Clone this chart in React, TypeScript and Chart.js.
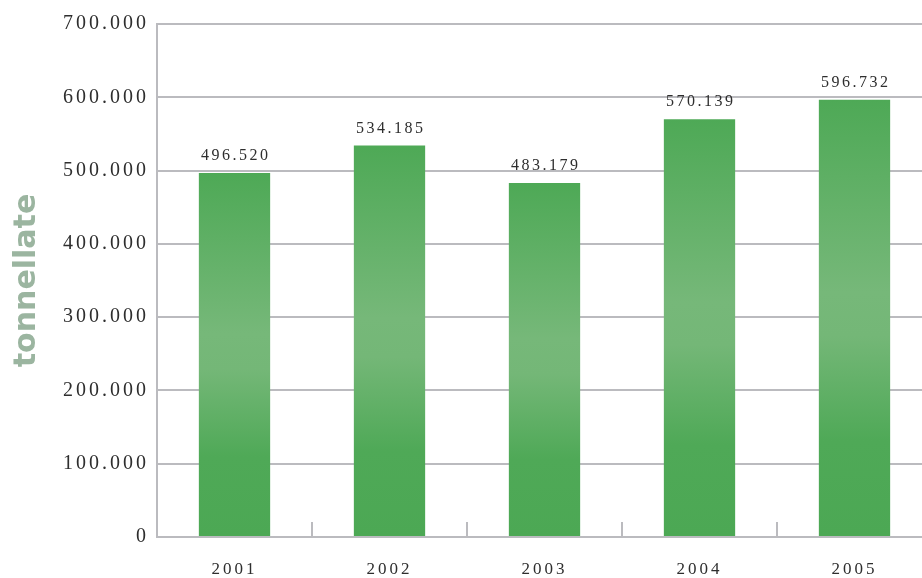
import React, { useEffect, useRef } from "react";
import { Chart, registerables } from "chart.js";

Chart.register(...registerables);

const categories = ["2001", "2002", "2003", "2004", "2005"];
const values = [496520, 534185, 483179, 570139, 596732];
const yTicks = [0, 100000, 200000, 300000, 400000, 500000, 600000, 700000];
const yTitle = "tonnellate";

const fmt = (n: number) => String(Math.round(n)).replace(/\B(?=(\d{3})+(?!\d))/g, ".");

const GRID = "#bbbbbf";
const TEXT = "#2e2e2e";
const SERIF = '"Liberation Serif", "DejaVu Serif", serif';
const SPACING = "3px";

const spacingPlugin = {
  id: "spacing",
  beforeUpdate(chart: any) {
    chart.ctx.letterSpacing = SPACING;
  },
  beforeDraw(chart: any) {
    chart.ctx.letterSpacing = SPACING;
    const ys = chart.scales.y;
    if (ys && !ys.__patched) {
      const orig = ys.drawTitle;
      ys.drawTitle = function (...args: any[]) {
        const ctx = this.ctx;
        ctx.save();
        ctx.letterSpacing = "0px";
        orig.apply(this, args);
        ctx.restore();
      };
      ys.__patched = true;
    }
  },
};

const labelPlugin = {
  id: "barLabels",
  afterDatasetsDraw(chart: any) {
    const ctx = chart.ctx;
    const meta = chart.getDatasetMeta(0);
    ctx.save();
    ctx.letterSpacing = "2.5px";
    ctx.font = `16px ${SERIF}`;
    ctx.fillStyle = TEXT;
    ctx.textAlign = "center";
    ctx.textBaseline = "alphabetic";
    meta.data.forEach((bar: any, i: number) => {
      ctx.fillText(fmt(values[i]), bar.x + 1.25, bar.y - 13);
    });
    ctx.restore();
  },
};

export default function App() {
  const ref = useRef<HTMLCanvasElement | null>(null);
  useEffect(() => {
    if (!ref.current) return;
    const chart = new Chart(ref.current, {
      type: "bar",
      data: {
        labels: categories,
        datasets: [
          {
            data: values,
            backgroundColor: (c: any) => {
              const chart = c.chart;
              if (!chart.chartArea || c.type !== "data") return "#4ea956";
              const y = chart.scales.y;
              const top = y.getPixelForValue(c.parsed.y);
              const bottom = y.getPixelForValue(0);
              const g = chart.ctx.createLinearGradient(0, top, 0, bottom);
              g.addColorStop(0, "#4ea956");
              g.addColorStop(0.44, "#76b879");
              g.addColorStop(0.54, "#74b777");
              g.addColorStop(0.78, "#4fa957");
              g.addColorStop(1, "#4ca854");
              return g;
            },
            borderWidth: 0,
            categoryPercentage: 1,
            barPercentage: 0.46,
          },
        ],
      },
      options: {
        animation: false,
        responsive: true,
        maintainAspectRatio: false,
        layout: { padding: { top: 24, left: 0, right: 0, bottom: 0 } },
        plugins: {
          legend: { display: false },
          tooltip: { enabled: false },
        },
        scales: {
          x: {
            offset: true,
            grid: {
              drawOnChartArea: false,
              drawTicks: true,
              tickLength: -15,
              color: GRID,
              lineWidth: 2,
            },
            border: { display: true, color: GRID, width: 2 },
            ticks: {
              color: TEXT,
              font: { family: SERIF, size: 17 },
              padding: 37,
            },
            afterFit: (s: any) => {
              s.height = 41;
            },
          },
          y: {
            min: 0,
            max: 700000,
            afterBuildTicks: (s: any) => {
              s.ticks = yTicks.map((v) => ({ value: v }));
            },
            grid: { color: GRID, lineWidth: 2, drawTicks: false },
            border: { display: true, color: GRID, width: 2 },
            ticks: {
              color: TEXT,
              font: { family: SERIF, size: 20 },
              padding: 8,
              callback: (v: any) => fmt(Number(v)),
            },
            title: {
              display: true,
              text: yTitle,
              color: "#9bb5a0",
              font: { family: '"DejaVu Sans", sans-serif', size: 30, weight: "bold" },
              padding: { top: 9, bottom: 0 },
            },
            afterFit: (s: any) => {
              s.width = 157;
            },
          },
        },
      },
      plugins: [spacingPlugin, labelPlugin],
    });
    return () => chart.destroy();
  }, []);
  return (
    <div style={{ position: "absolute", left: 0, top: 0, width: 922, height: 578, overflow: "hidden", background: "#fff" }}>
      <div style={{ position: "relative", width: 932, height: 578 }}>
        <canvas ref={ref} />
      </div>
    </div>
  );
}
